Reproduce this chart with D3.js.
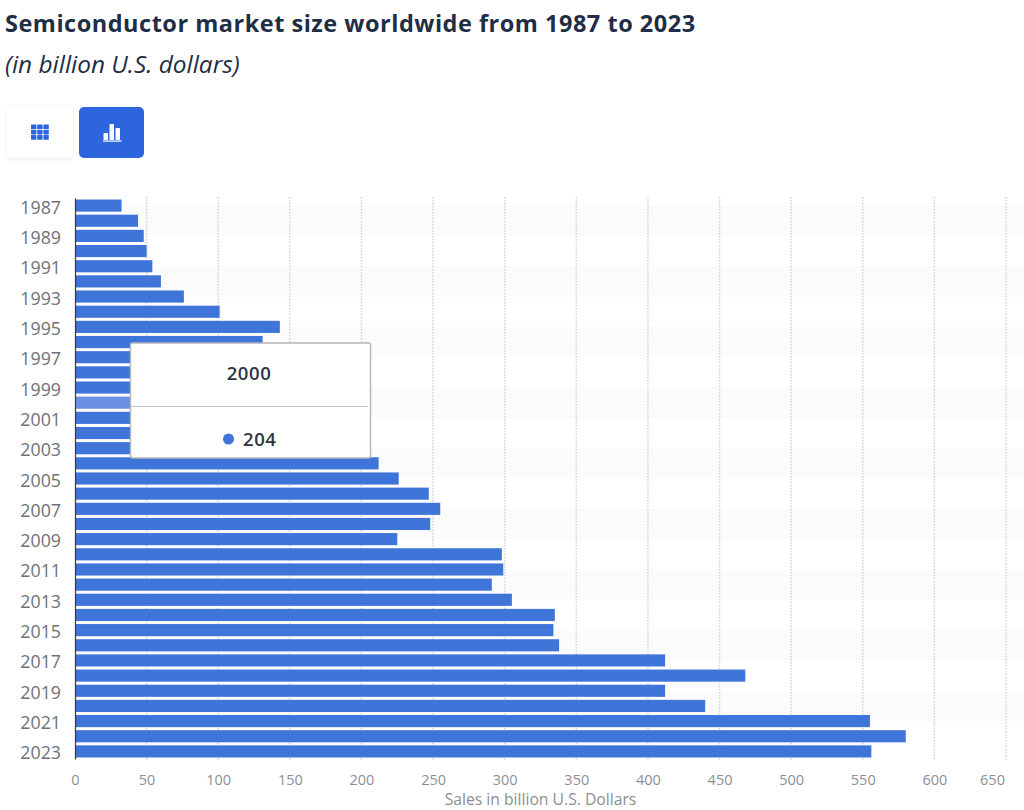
<!DOCTYPE html>
<html><head><meta charset="utf-8">
<script src="https://cdn.jsdelivr.net/npm/d3@7"></script>
<style>
html,body{margin:0;padding:0;background:#fff;overflow:hidden}
svg{display:block;font-family:"Open Sans",sans-serif}
</style></head><body>
<svg id="c" width="1024" height="810"></svg>
<script>
const years = d3.range(1987, 2024);
const sales = [32.5,44,48,50,54,60,76,101,143,131,137,126,149,204,139,141,166,212,226,247,255,248,225,298,299,291,305,335,334,338,412,468,412,440,555,580,556];
const xTicks = d3.range(0, 651, 50);
const yTickYears = years.filter(y => (y - 1987) % 2 === 0);
const titleText = "Semiconductor market size worldwide from 1987 to 2023";
const subtitleText = "(in billion U.S. dollars)";
const axisTitle = "Sales in billion U.S. Dollars";
const tooltipYear = 2000;

const svg = d3.select("#c");
const x = d3.scaleLinear().domain([0, 650]).range([75, 1006]);
const y = d3.scaleBand().domain(years).range([198, 759]).paddingInner(0.2).paddingOuter(0.1);
const cy = yr => y(yr) + y.bandwidth() / 2;

svg.append("text").attr("x", 5).attr("y", 32).attr("font-size", 23.5).attr("font-weight", 700)
  .attr("letter-spacing", 0.51).attr("fill", "#1f2d46").text(titleText);
svg.append("text").attr("x", 5).attr("y", 73).attr("font-size", 24.4).attr("font-style", "italic")
  .attr("fill", "#1f2d46").text(subtitleText);

// buttons
const defs = svg.append("defs");
defs.append("filter").attr("id","sh").attr("x","-20%").attr("y","-20%").attr("width","140%").attr("height","140%")
  .append("feDropShadow").attr("dx",0).attr("dy",1).attr("stdDeviation",2).attr("flood-color","#000").attr("flood-opacity",0.08);
svg.append("rect").attr("x",7).attr("y",107).attr("width",66).attr("height",51).attr("rx",5).attr("fill","#fff").attr("filter","url(#sh)");
svg.append("rect").attr("x",79).attr("y",107).attr("width",65).attr("height",51).attr("rx",5).attr("fill","#2d65dd");
const grid = svg.append("g").attr("fill","#2d65dd");
for (let i=0;i<3;i++) for (let j=0;j<3;j++)
  grid.append("rect").attr("x",31+i*6.2).attr("y",124.5+j*5.3).attr("width",5.4).attr("height",4.6).attr("rx",0.6);
const ic = svg.append("g").attr("fill","#fff");
[[103.5,133,4.5,7],[109.5,124,4.5,16],[115.5,128,4.5,12]].forEach(r =>
  ic.append("rect").attr("x",r[0]).attr("y",r[1]).attr("width",r[2]).attr("height",r[3]).attr("rx",0.8));
ic.append("rect").attr("x",103).attr("y",140.5).attr("width",18.5).attr("height",1.2);

// alternating bands
const bands = svg.append("g");
yTickYears.forEach((yr,i) => {
  if (i % 2 === 0 && yr < 2023) bands.append("rect").attr("x",75).attr("width",949)
    .attr("y",cy(yr)).attr("height",cy(yr+2)-cy(yr)).attr("fill","#fbfbfb");
});

// grid
svg.append("g").selectAll("line").data(xTicks.slice(1)).join("line")
  .attr("x1",d=>x(d)).attr("x2",d=>x(d)).attr("y1",197).attr("y2",760)
  .attr("stroke","#d2d3d8").attr("stroke-width",1.5).attr("stroke-dasharray","1.5 1.5");

// bars
svg.append("g").selectAll("rect").data(years).join("rect")
  .attr("x",x(0)).attr("y",d=>y(d)).attr("height",y.bandwidth())
  .attr("width",(d,i)=>x(sales[i])-x(0))
  .attr("fill",d=>d===tooltipYear?"#6a90e2":"#3f74d8");

// axes
const yAxis = svg.append("g").attr("transform","translate(75,0)")
  .call(d3.axisLeft(y).tickValues(yTickYears).tickSize(0).tickPadding(14));
yAxis.select(".domain").attr("stroke","#333b48").attr("stroke-width",1.2);
yAxis.selectAll("text").attr("font-size",17.8).attr("fill","#6e7278").attr("font-family","'Open Sans',sans-serif")
  .attr("dy","0.45em");

const xAxis = svg.append("g").attr("transform","translate(0,759)")
  .call(d3.axisBottom(x).tickValues(xTicks).tickSize(0).tickPadding(14));
xAxis.select(".domain").remove();
xAxis.selectAll("text").attr("font-size",14.5).attr("fill","#8b8f95").attr("font-family","'Open Sans',sans-serif")
  .attr("dy","0.85em").attr("dx",d=>d===650?-14:0);

svg.append("text").attr("x",540.5).attr("y",805).attr("text-anchor","middle").attr("font-size",15.7)
  .attr("fill","#8b8f95").text(axisTitle);

// tooltip
const tt = svg.append("g");
tt.append("rect").attr("x",130.5).attr("y",343).attr("width",240).attr("height",115).attr("rx",2)
  .attr("fill","#fff").attr("stroke","#b4b6ba").attr("stroke-width",1.4);
tt.append("line").attr("x1",131).attr("x2",368).attr("y1",406.5).attr("y2",406.5).attr("stroke","#c6c7cb");
tt.append("text").attr("x",249).attr("y",380).attr("text-anchor","middle").attr("font-size",18.5).attr("font-weight",600)
  .attr("letter-spacing",0.6).attr("fill","#2c3444").text(tooltipYear);
tt.append("circle").attr("cx",228.5).attr("cy",439).attr("r",5.5).attr("fill","#3f74d8");
tt.append("text").attr("x",243).attr("y",446).attr("font-size",18.5).attr("font-weight",600)
  .attr("letter-spacing",0.6).attr("fill","#2c3444").text(sales[years.indexOf(tooltipYear)]);
</script>
</body></html>
